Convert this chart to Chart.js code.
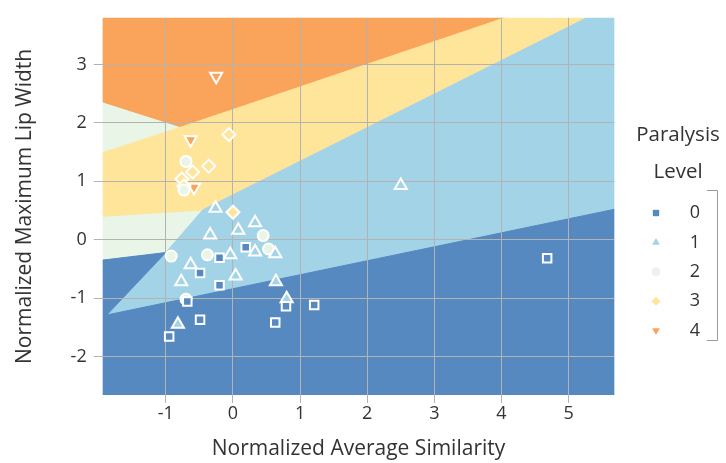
<!DOCTYPE html>
<html>
<head>
<meta charset="utf-8">
<script src="https://cdn.jsdelivr.net/npm/chart.js@4.4.1/dist/chart.umd.min.js"></script>
<style>
  html, body { margin: 0; padding: 0; background: #ffffff; }
  .chart-container { position: relative; width: 726px; height: 463px; }
</style>
</head>
<body>
<div class="chart-container"><canvas id="paralysisChart"></canvas></div>
<script>
// paralysis levels and their colours
const levels = ["0", "1", "2", "3", "4"];
const levelColors = ["#5589c0", "#a3d3e6", "#e9f5e7", "#fee59a", "#f9a35b"];

// observed points (x: normalized average similarity, y: normalized max lip width)
const level0X = [0.19, -0.20, -0.49, -0.20, -0.68, 0.79, 1.21, -0.49, 0.63, -0.95, 4.68];
const level0Y = [-0.13, -0.31, -0.57, -0.78, -1.06, -1.14, -1.12, -1.37, -1.42, -1.66, -0.32];
const level1X = [-0.26, 0.33, 0.08, -0.34, 0.63, 0.33, -0.04, -0.63, 0.04, -0.77, 0.64, 0.80, -0.82, 2.50];
const level1Y = [0.54, 0.29, 0.16, 0.08, -0.24, -0.21, -0.26, -0.43, -0.62, -0.72, -0.72, -1.01, -1.45, 0.93];
const level2X = [-0.70, -0.73, 0.45, 0.53, -0.38, -0.92, -0.70];
const level2Y = [1.34, 0.85, 0.07, -0.16, -0.26, -0.28, -1.02];
const level3X = [-0.06, -0.36, -0.60, -0.76, -0.73, 0.00];
const level3Y = [1.80, 1.26, 1.16, 1.04, 0.92, 0.47];
const level4X = [-0.25, -0.63, -0.58];
const level4Y = [2.80, 1.71, 0.90];

// axis range
const xMin = -1.94, xMax = 5.68;
const yMin = -2.66, yMax = 3.80;

// decision regions (polygon corners in data units)
const region2X = [xMin, xMin, xMax, xMax];
const region2Y = [yMin, yMax, yMax, yMin];
const region4X = [xMin, xMin, -0.77, 4.05];
const region4Y = [yMax, 2.36, 1.93, yMax];
const region3X = [xMin, -0.77, 4.05, 5.27, -0.45, xMin];
const region3Y = [1.49, 1.93, yMax, yMax, 0.51, 0.40];
const region1X = [-1.88, -1.00, -0.45, 5.27, xMax, xMax];
const region1Y = [-1.29, -0.22, 0.51, yMax, yMax, 0.52];
const region0X = [xMin, xMin, -1.00, -1.88, xMax, xMax];
const region0Y = [yMin, -0.35, -0.22, -1.29, 0.52, yMin];

const regions = [
  { xs: region2X, ys: region2Y, color: levelColors[2] },
  { xs: region4X, ys: region4Y, color: levelColors[4] },
  { xs: region3X, ys: region3Y, color: levelColors[3] },
  { xs: region1X, ys: region1Y, color: levelColors[1] },
  { xs: region0X, ys: region0Y, color: levelColors[0] },
];

const pointStyles = [
  { style: "rect", rotation: 0, radius: 6 },
  { style: "triangle", rotation: 0, radius: 7 },
  { style: "circle", rotation: 0, radius: 5.5 },
  { style: "rectRot", rotation: 0, radius: 6.5 },
  { style: "triangle", rotation: 180, radius: 7 },
];

function zip(xs, ys) {
  return xs.map(function (x, i) {
    return { x: x, y: ys[i] };
  });
}

const seriesX = [level0X, level1X, level2X, level3X, level4X];
const seriesY = [level0Y, level1Y, level2Y, level3Y, level4Y];

const regionPlugin = {
  id: "regions",
  beforeDraw(chart) {
    const ctx = chart.ctx;
    const area = chart.chartArea;
    const sx = chart.scales.x;
    const sy = chart.scales.y;
    ctx.save();
    ctx.beginPath();
    ctx.rect(area.left, area.top, area.right - area.left, area.bottom - area.top);
    ctx.clip();
    regions.forEach(function (r) {
      ctx.beginPath();
      r.xs.forEach(function (x, i) {
        const px = sx.getPixelForValue(x);
        const py = sy.getPixelForValue(r.ys[i]);
        if (i === 0) ctx.moveTo(px, py);
        else ctx.lineTo(px, py);
      });
      ctx.closePath();
      ctx.fillStyle = r.color;
      ctx.strokeStyle = r.color;
      ctx.lineWidth = 1;
      ctx.fill();
      ctx.stroke();
    });
    ctx.restore();
  },
};

const legendPlugin = {
  id: "levelLegend",
  afterDraw(chart) {
    const ctx = chart.ctx;
    ctx.save();
    ctx.fillStyle = "#333333";
    ctx.textAlign = "center";
    ctx.textBaseline = "middle";
    ctx.font = "20.5px 'Open Sans', sans-serif";
    ctx.fillText("Paralysis", 678, 135);
    ctx.fillText("Level", 678, 172);

    ctx.font = "18px 'Open Sans', sans-serif";
    levels.forEach(function (label, i) {
      const y = 213 + i * 29.4;
      const ps = pointStyles[i];
      ctx.fillStyle = levelColors[i];
      Chart.helpers.drawPoint(ctx, {
        pointStyle: ps.style,
        rotation: ps.rotation,
        radius: 4.5,
        borderWidth: 0,
      }, 656, y);
      ctx.fillStyle = "#333333";
      ctx.fillText(label, 695, y);
    });

    // bracket beside the legend entries
    ctx.strokeStyle = "#9a9a9a";
    ctx.lineWidth = 1;
    ctx.beginPath();
    ctx.moveTo(707, 190.5);
    ctx.lineTo(717.5, 190.5);
    ctx.lineTo(717.5, 340.5);
    ctx.lineTo(707, 340.5);
    ctx.stroke();
    ctx.restore();
  },
};

document.addEventListener("DOMContentLoaded", function () {
  Chart.defaults.font.family = "'Open Sans', sans-serif";
  const ctx = document.getElementById("paralysisChart").getContext("2d");

  const datasets = levels.map(function (label, i) {
    const ps = pointStyles[i];
    return {
      label: label,
      data: zip(seriesX[i], seriesY[i]),
      pointStyle: ps.style,
      rotation: ps.rotation,
      pointRadius: ps.radius,
      pointHoverRadius: ps.radius,
      backgroundColor: levelColors[i],
      borderColor: "#ffffff",
      borderWidth: 2,
    };
  });

  new Chart(ctx, {
    type: "scatter",
    data: { datasets: datasets },
    plugins: [regionPlugin, legendPlugin],
    options: {
      responsive: true,
      maintainAspectRatio: false,
      animation: false,
      layout: {
        padding: { left: 0, top: 12.7, right: 111.7, bottom: 0 },
      },
      plugins: {
        legend: { display: false },
        tooltip: { enabled: false },
      },
      scales: {
        x: {
          type: "linear",
          min: xMin,
          max: xMax,
          afterFit: function (scale) {
            scale.height = 68;
          },
          grid: {
            color: "#b3b3b3",
            lineWidth: 1,
            drawTicks: true,
            tickLength: 8,
          },
          border: { display: false },
          ticks: {
            stepSize: 1,
            includeBounds: false,
            padding: 0,
            color: "#333333",
            font: { size: 18 },
          },
          title: {
            display: true,
            text: "Normalized Average Similarity",
            color: "#333333",
            font: { size: 21 },
            padding: { top: 0, bottom: 1 },
          },
        },
        y: {
          type: "linear",
          min: yMin,
          max: yMax,
          afterFit: function (scale) {
            scale.width = 102.7;
          },
          grid: {
            color: "#b3b3b3",
            lineWidth: 1,
            drawTicks: true,
            tickLength: 9,
          },
          border: { display: false },
          ticks: {
            stepSize: 1,
            includeBounds: false,
            padding: 7,
            color: "#333333",
            font: { size: 18 },
          },
          title: {
            display: true,
            text: "Normalized Maximum Lip Width",
            color: "#333333",
            font: { size: 21 },
            padding: { top: 12, bottom: 0 },
          },
        },
      },
    },
  });
});
</script>
</body>
</html>
